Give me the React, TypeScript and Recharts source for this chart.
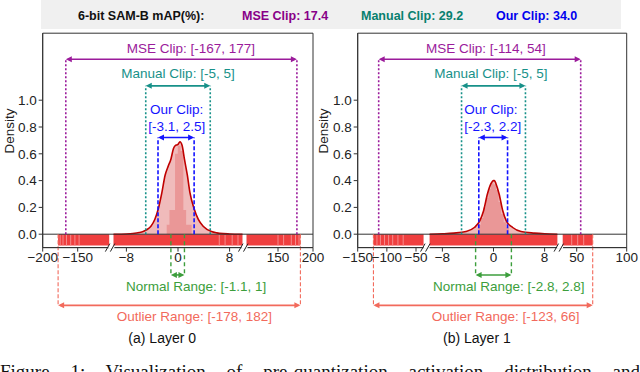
import React from "react";
import {
  ComposedChart,
  Area,
  Line,
  XAxis,
  YAxis,
  ReferenceLine,
  ReferenceArea,
  ReferenceDot,
} from "recharts";

// header scores
const methods = ["MSE Clip", "Manual Clip", "Our Clip"];
const scores = ["17.4", "29.2", "34.0"];

// ---- (a) Layer 0 ----
const dens0X = [-10, -8, -7, -6, -5.4, -4.8, -4.2, -3.6, -3.05, -2.5, -2, -1.5, -1.1, -0.7, -0.45, 0, 0.3, 0.65, 1, 1.45, 1.85, 2.5, 3.15, 3.9, 5.2, 6, 7, 8, 10];
const dens0Y = [0, 0.002, 0.005, 0.012, 0.02, 0.035, 0.06, 0.11, 0.19, 0.31, 0.44, 0.51, 0.56, 0.64, 0.66, 0.67, 0.69, 0.66, 0.56, 0.44, 0.31, 0.19, 0.11, 0.06, 0.02, 0.01, 0.004, 0.002, 0];
const hist0Edges = [-1.75, -1.32, -0.89, -0.46, -0.03, 0.4, 0.83, 1.26, 1.69, 2.12];
const hist0Heights = [0.07, 0.18, 0.18, 0.6, 0.66, 0.62, 0.18, 0.07, 0.07, 0];
const rug0 = [[-178, -105], [-10, 10], [105, 182]];
const rug0Light = [-175, -171, -166, -160, -154, -148, 6.4, 7.3, 8.4, 9.3, 150, 158, 169, 175, 180];
const mse0 = [-167, 177];
const manual0 = [-5, 5];
const our0 = [-3.1, 2.5];
const normal0 = [-1.1, 1];
const outlier0 = [-178, 182];
const ticks0 = [-200, -150, -8, 0, 8, 150, 200];

// ---- (b) Layer 1 ----
const dens1X = [-10, -8, -6.2, -4.3, -3, -2.15, -1.55, -0.95, -0.42, 0, 0.15, 0.4, 0.88, 1.45, 2, 3, 4.3, 6.4, 8, 10];
const dens1Y = [0, 0.003, 0.008, 0.02, 0.05, 0.1, 0.175, 0.3, 0.375, 0.4, 0.4, 0.375, 0.3, 0.175, 0.1, 0.05, 0.02, 0.008, 0.003, 0];
const hist1Edges = [-2.4, -2, -1.6, -1.2, -0.8, -0.4, 0, 0.4, 0.8, 1.2, 1.6, 2, 2.4];
const hist1Heights = [0.07, 0.12, 0.2, 0.27, 0.34, 0.38, 0.37, 0.33, 0.24, 0.15, 0.09, 0.05, 0];
const rug1 = [[-123, -37], [-10, 10], [36, 66]];
const rug1Light = [-117, -111, -104, -97, -90, -81, -72, 45, 51, 57];
const mse1 = [-114, 54];
const manual1 = [-5, 5];
const our1 = [-2.3, 2.2];
const normal1 = [-2.8, 2.8];
const outlier1 = [-123, 66];
const ticks1 = [-150, -100, -50, -8, 0, 8, 50, 100];

// broken x axis: each piece maps [lo, hi] linearly, u = u0 + (v - lo) * k
type Seg = { lo: number; hi: number; u0: number; k: number };
const scale0: Seg[] = [
  { lo: -200, hi: -105, u0: 0, k: 0.7 },
  { lo: -10, hi: 10, u0: 70.8, k: 6.45 },
  { lo: 105, hi: 200, u0: 203.8, k: 0.7 },
];
const scale1: Seg[] = [
  { lo: -150, hi: -37, u0: 0, k: 0.583 },
  { lo: -10, hi: 10, u0: 71.9, k: 6.39 },
  { lo: 36, hi: 100, u0: 205, k: 1.0 },
];

const toU = (segs: Seg[], v: number) => {
  let s = segs[0];
  for (const g of segs) if (v >= g.lo - 1e-9) s = g;
  return s.u0 + (v - s.lo) * s.k;
};

const COL = {
  mse: "#9b1b9b",
  manual: "#179189",
  our: "#1414ff",
  normal: "#3c9e3c",
  outlier: "#f26a5c",
  curve: "#c00000",
  fill: "#ecaaaa",
  hist: "#e67a7a",
  rug: "#ef3f3f",
  rugLight: "#f58a8a",
};

// vertical placement (data units) of the annotation rows
const ROW = {
  mseText: 1.387, mseArrow: 1.306,
  manText: 1.2, manArrow: 1.107,
  ourText1: 0.93, ourText2: 0.805, ourArrow: 0.722,
  normArrow: -0.304, normText: -0.39,
  outArrow: -0.531, outText: -0.613,
  caption: -0.774,
};

const arrowShape = (color: string) => (p: any) => {
  const { x1, x2, y1 } = p;
  const a = Math.min(x1, x2), b = Math.max(x1, x2);
  return (
    <g>
      <line x1={a + 2} y1={y1} x2={b - 2} y2={y1} stroke={color} strokeWidth={1.6} />
      <polygon points={`${a},${y1} ${a + 6},${y1 - 3} ${a + 6},${y1 + 3}`} fill={color} />
      <polygon points={`${b},${y1} ${b - 6},${y1 - 3} ${b - 6},${y1 + 3}`} fill={color} />
    </g>
  );
};

const breakShape = (p: any) => {
  const { cx, cy } = p;
  return (
    <g>
      <rect x={cx - 3} y={cy - 1} width={6} height={2} fill="#fff" />
      <line x1={cx - 6} y1={cy + 4} x2={cx - 1.5} y2={cy - 4} stroke="#222" strokeWidth={1} />
      <line x1={cx - 1} y1={cy + 4} x2={cx + 3.5} y2={cy - 4} stroke="#222" strokeWidth={1} />
    </g>
  );
};

type PanelProps = {
  left: number;
  width: number;
  yAxisWidth: number;
  right: number;
  span: number;
  segs: Seg[];
  densX: number[];
  densY: number[];
  histEdges: number[];
  histHeights: number[];
  rug: number[][];
  rugLight: number[];
  mse: number[];
  manual: number[];
  our: number[];
  normal: number[];
  outlier: number[];
  ticks: number[];
  at: { mse: number; manual: number; our: number; ourRange: number; normal: number; outlier: number; caption: number };
  caption: string;
  densityX: number;
};

function Panel(props: PanelProps) {
  const { segs, span } = props;
  const U = (v: number) => toU(segs, v);

  const rows: any[] = [];
  props.densX.forEach((v, i) => rows.push({ u: U(v), dens: props.densY[i] }));
  props.histEdges.forEach((v, i) => rows.push({ u: U(v), hist: props.histHeights[i] }));
  rows.sort((a, b) => a.u - b.u);

  const tickU = props.ticks.map(U);
  const fmt = (u: number) => {
    const i = tickU.findIndex((t) => Math.abs(t - u) < 1e-6);
    const v = props.ticks[i];
    return v < 0 ? "\u2212" + Math.abs(v) : String(v);
  };

  const breaks = segs.slice(0, -1).map((s, i) => (U(s.hi) + segs[i + 1].u0) / 2);

  const vlines = (pair: number[], y1: number, y2: number, color: string, dash: string, w: number, key: string) =>
    pair.map((v, i) => (
      <ReferenceLine
        key={`${key}${i}`}
        segment={[{ x: U(v), y: y1 }, { x: U(v), y: y2 }]}
        stroke={color}
        strokeWidth={w}
        strokeDasharray={dash}
        ifOverflow="visible"
      />
    ));

  const arrow = (pair: number[], y: number, color: string, key: string) => (
    <ReferenceLine
      key={key}
      segment={[{ x: U(pair[0]), y }, { x: U(pair[1]), y }]}
      stroke={color}
      ifOverflow="visible"
      shape={arrowShape(color)}
    />
  );

  const tag = (key: string, v: number, y: number, text: string, color: string, size = 13.5) => (
    <ReferenceDot
      key={key}
      x={U(v)}
      y={y}
      r={0}
      fill="none"
      stroke="none"
      ifOverflow="visible"
      label={{ value: text, position: "center", fill: color, fontSize: size }}
    />
  );

  return (
    <div style={{ position: "absolute", left: props.left, top: 0 }}>
      <ComposedChart
        width={props.width}
        height={372}
        data={rows}
        margin={{ top: 33.2, right: props.right, bottom: 94.4, left: 0 }}
      >
        <XAxis
          type="number"
          dataKey="u"
          domain={[0, span]}
          allowDataOverflow
          ticks={tickU}
          interval={0}
          tickFormatter={fmt}
          tickSize={4}
          tickMargin={1}
          height={30}
          stroke="#333"
          tick={{ fontSize: 13.5, fill: "#222" }}
        />
        <YAxis
          type="number"
          domain={[-0.1, 1.5]}
          allowDataOverflow
          ticks={[0, 0.2, 0.4, 0.6, 0.8, 1.0]}
          tickFormatter={(v: number) => v.toFixed(1)}
          tickSize={4}
          width={props.yAxisWidth}
          stroke="#333"
          tick={{ fontSize: 13.5, fill: "#222" }}
          label={() => (
            <text
              x={props.densityX}
              y={131}
              transform={`rotate(-90 ${props.densityX} 131)`}
              textAnchor="middle"
              dominantBaseline="central"
              fontSize={13.5}
              fill="#222"
            >
              Density
            </text>
          )}
        />

        {props.rug.map((r, i) => (
          <ReferenceArea key={`rug${i}`} x1={U(r[0])} x2={U(r[1])} y1={-0.085} y2={0} fill={COL.rug} fillOpacity={1} stroke="none" />
        ))}
        {props.rugLight.map((v, i) => (
          <ReferenceLine key={`rl${i}`} segment={[{ x: U(v), y: -0.085 }, { x: U(v), y: 0 }]} stroke={COL.rugLight} strokeWidth={1} />
        ))}

        <Area type="monotone" dataKey="dens" connectNulls stroke="none" fill={COL.fill} fillOpacity={0.8} isAnimationActive={false} />
        <Area type="stepAfter" dataKey="hist" connectNulls stroke="none" fill={COL.hist} fillOpacity={0.55} isAnimationActive={false} />
        <Line type="monotone" dataKey="dens" connectNulls stroke={COL.curve} strokeWidth={1.6} dot={false} isAnimationActive={false} />

        <ReferenceLine y={0} stroke="#333" strokeWidth={1} />

        {vlines(props.mse, 0, ROW.mseArrow, COL.mse, "2 2", 1.6, "mse")}
        {vlines(props.manual, 0, ROW.manArrow, COL.manual, "2 2", 1.6, "man")}
        {vlines(props.our, 0, ROW.ourArrow, COL.our, "4 2", 1.6, "our")}
        {vlines(props.normal, 0, ROW.normArrow, COL.normal, "4 3", 1.4, "nor")}
        {vlines(props.outlier, 0, ROW.outArrow, COL.outlier, "4 2", 1.1, "out")}

        {arrow(props.mse, ROW.mseArrow, COL.mse, "amse")}
        {arrow(props.manual, ROW.manArrow, COL.manual, "aman")}
        {arrow(props.our, ROW.ourArrow, COL.our, "aour")}
        {arrow(props.normal, ROW.normArrow, COL.normal, "anor")}
        {arrow(props.outlier, ROW.outArrow, COL.outlier, "aout")}

        {tag("tmse", props.at.mse, ROW.mseText, `MSE Clip: [${props.mse[0]}, ${props.mse[1]}]`, COL.mse)}
        {tag("tman", props.at.manual, ROW.manText, `Manual Clip: [${props.manual[0]}, ${props.manual[1]}]`, COL.manual)}
        {tag("tour1", props.at.our, ROW.ourText1, "Our Clip:", COL.our)}
        {tag("tour2", props.at.ourRange, ROW.ourText2, `[${props.our[0]}, ${props.our[1]}]`, COL.our)}
        {tag("tnor", props.at.normal, ROW.normText, `Normal Range: [${props.normal[0]}, ${props.normal[1]}]`, COL.normal)}
        {tag("tout", props.at.outlier, ROW.outText, `Outlier Range: [${props.outlier[0]}, ${props.outlier[1]}]`, COL.outlier)}
        {tag("tcap", props.at.caption, ROW.caption, props.caption, "#111", 14)}

        {breaks.map((u, i) => (
          <ReferenceDot key={`brk${i}`} x={u} y={-0.1} r={0} ifOverflow="visible" shape={breakShape} />
        ))}

        <ReferenceArea x1={0} x2={span} y1={-0.1} y2={1.5} fill="none" stroke="#333" strokeWidth={1} />
      </ComposedChart>
    </div>
  );
}

export default function App() {
  const headColors = ["#880088", "#08806f", "#0000ee"];
  const headLeft = [242, 361, 496];
  return (
    <div
      style={{
        position: "absolute",
        left: 0,
        top: 0,
        width: 640,
        height: 372,
        overflow: "hidden",
        background: "#fff",
        fontFamily: "'Liberation Sans', Arial, sans-serif",
      }}
    >
      <div style={{ position: "absolute", left: 41, top: 0, width: 580, height: 29, background: "#f0f0f0" }} />
      <span style={{ position: "absolute", left: 78, top: 9, fontSize: 12.5, lineHeight: "14px", fontWeight: "bold", color: "#111" }}>
        6-bit SAM-B mAP(%):
      </span>
      {methods.map((m, i) => (
        <span
          key={m}
          style={{ position: "absolute", left: headLeft[i], top: 9, fontSize: 12.5, lineHeight: "14px", fontWeight: "bold", color: headColors[i] }}
        >
          {m}: {scores[i]}
        </span>
      ))}

      <Panel
        left={0}
        width={330}
        yAxisWidth={42.7}
        right={17}
        span={270.3}
        segs={scale0}
        densX={dens0X}
        densY={dens0Y}
        histEdges={hist0Edges}
        histHeights={hist0Heights}
        rug={rug0}
        rugLight={rug0Light}
        mse={mse0}
        manual={manual0}
        our={our0}
        normal={normal0}
        outlier={outlier0}
        ticks={ticks0}
        at={{ mse: 2.0, manual: 0, our: -0.2, ourRange: -0.2, normal: 2.8, outlier: 2.55, caption: -2.45 }}
        caption="(a) Layer 0"
        densityX={9.3}
      />
      <Panel
        left={310}
        width={330}
        yAxisWidth={47.7}
        right={13.3}
        span={269}
        segs={scale1}
        densX={dens1X}
        densY={dens1Y}
        histEdges={hist1Edges}
        histHeights={hist1Heights}
        rug={rug1}
        rugLight={rug1Light}
        mse={mse1}
        manual={manual1}
        our={our1}
        normal={normal1}
        outlier={outlier1}
        ticks={ticks1}
        at={{ mse: -1.2, manual: -0.4, our: -0.4, ourRange: -0.1, normal: 2.4, outlier: 1.9, caption: -2.6 }}
        caption="(b) Layer 1"
        densityX={13.3}
      />

      <div
        style={{
          position: "absolute",
          left: 0,
          top: 362,
          width: 640,
          fontFamily: "'Liberation Serif', 'Times New Roman', serif",
          fontSize: 19,
          lineHeight: "19px",
          whiteSpace: "nowrap",
          textAlign: "justify",
          textAlignLast: "justify",
          color: "#111",
        }}
      >
        Figure 1: Visualization of pre-quantization activation distribution and
      </div>
    </div>
  );
}
